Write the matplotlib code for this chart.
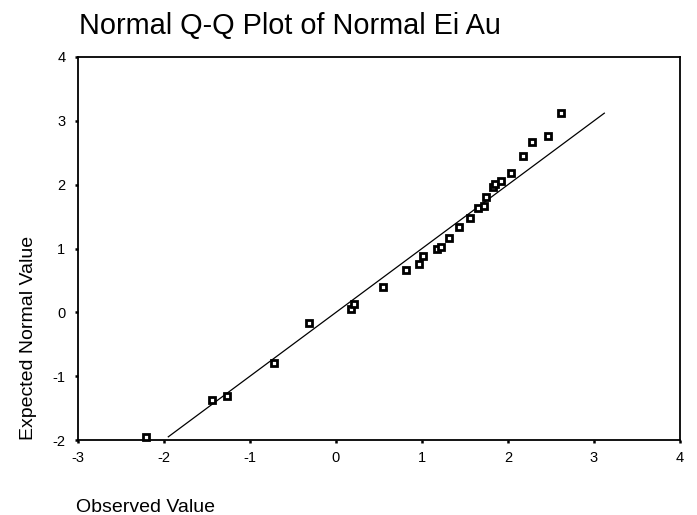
import numpy as np
import matplotlib.pyplot as plt

plt.rcParams['font.family'] = ['Liberation Sans', 'DejaVu Sans']
plt.rcParams['axes.unicode_minus'] = False

# observed (standardized) vs expected normal values
observed = [-2.21, -1.44, -1.27, -0.72, -0.31, 0.17, 0.21, 0.55, 0.81, 0.97,
            1.01, 1.17, 1.22, 1.31, 1.43, 1.56, 1.65, 1.72, 1.74, 1.83,
            1.85, 1.92, 2.04, 2.17, 2.28, 2.47, 2.62]
expected = [-1.95, -1.37, -1.31, -0.80, -0.17, 0.06, 0.13, 0.40, 0.66, 0.75,
            0.89, 1.00, 1.02, 1.17, 1.34, 1.48, 1.64, 1.66, 1.80, 1.96,
            2.01, 2.06, 2.19, 2.45, 2.67, 2.76, 3.12]

x_ticks = [-3, -2, -1, 0, 1, 2, 3, 4]
y_ticks = [-2, -1, 0, 1, 2, 3, 4]

W, H = 697, 515
fig = plt.figure(figsize=(W / 100, H / 100), dpi=100)
ax = fig.add_axes([78 / W, 1 - 440 / H, (680 - 78) / W, (440 - 57) / H])

# reference line y = x over the range of expected values
lo, hi = min(expected), max(expected)
ax.plot([lo, hi], [lo, hi], color='black', linewidth=0.9)

ax.plot(observed, expected, linestyle='none', marker='s', markersize=4.4,
        markerfacecolor='white', markeredgecolor='black', markeredgewidth=2.0,
        clip_on=False, zorder=3)

ax.set_xlim(-3, 4)
ax.set_ylim(-2, 4)
ax.set_xticks(x_ticks)
ax.set_yticks(y_ticks)
ax.tick_params(direction='out', length=2, width=1.8, labelsize=10.5, colors='black')
ax.tick_params(axis='x', pad=6)
ax.tick_params(axis='y', pad=7)
for s in ax.spines.values():
    s.set_linewidth(1.3)

fig.text(79 / W, 1 - 34 / H, 'Normal Q-Q Plot of Normal Ei Au',
         fontsize=20.8, ha='left', va='baseline')
fig.text(76 / W, 1 - 512 / H, 'Observed Value',
         fontsize=14, ha='left', va='baseline')
fig.text(33 / W, 1 - 440 / H, 'Expected Normal Value', fontsize=14,
         rotation=90, rotation_mode='anchor', ha='left', va='baseline')

fig.savefig('out.png', dpi=100)
